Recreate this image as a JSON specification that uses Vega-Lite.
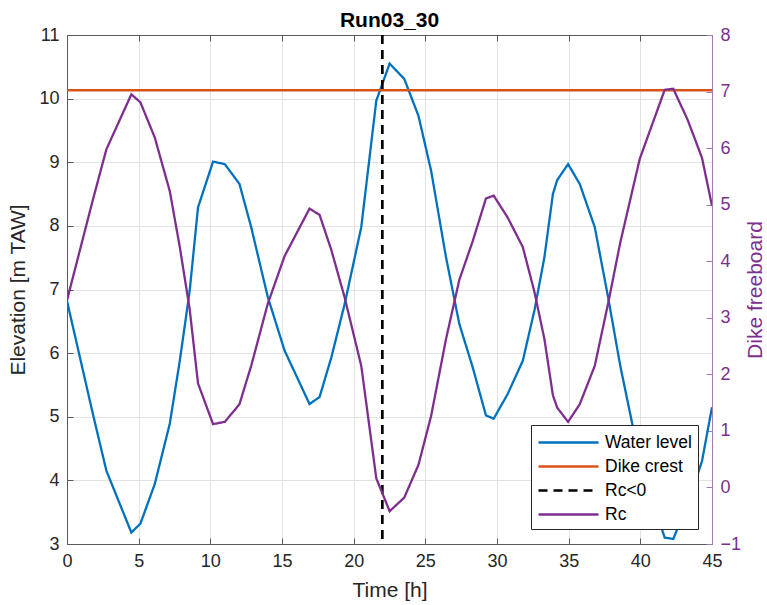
{
  "$schema": "https://vega.github.io/schema/vega-lite/v6.json",
  "width": 645,
  "height": 509,
  "autosize": {"type": "none"},
  "padding": {"left": 67, "top": 35, "right": 55, "bottom": 61},
  "background": "white",
  "title": {"text": "Run03_30", "font": "Liberation Sans", "fontSize": 21, "fontWeight": "bold", "color": "#000000", "offset": -5},
  "config": {
    "font": "Liberation Sans",
    "view": {"stroke": null},
    "axis": {
      "labelFont": "Liberation Sans", "labelFontSize": 18, "labelColor": "#262626",
      "titleFont": "Liberation Sans", "titleFontSize": 21, "titleFontWeight": "normal", "titleColor": "#262626",
      "domainColor": "#5a5a5a", "tickColor": "#5a5a5a", "tickSize": -6, "labelPadding": 14,
      "gridColor": "#e3e3e3", "domainWidth": 1, "labelFlush": false
    }
  },
  "datasets": {
    "wl": [
      {"t": 0, "wl": 6.82, "rc": 3.31},
      {"t": 1.81, "wl": 5.04, "rc": 5.09},
      {"t": 2.75, "wl": 4.15, "rc": 5.98},
      {"t": 4.49, "wl": 3.18, "rc": 6.95},
      {"t": 5.12, "wl": 3.32, "rc": 6.81},
      {"t": 6.12, "wl": 3.94, "rc": 6.19},
      {"t": 7.17, "wl": 4.89, "rc": 5.24},
      {"t": 7.87, "wl": 5.88, "rc": 4.25},
      {"t": 8.56, "wl": 6.98, "rc": 3.15},
      {"t": 9.14, "wl": 8.29, "rc": 1.84},
      {"t": 10.19, "wl": 9.01, "rc": 1.12},
      {"t": 11.01, "wl": 8.97, "rc": 1.16},
      {"t": 12.03, "wl": 8.66, "rc": 1.47},
      {"t": 12.85, "wl": 7.98, "rc": 2.15},
      {"t": 14.01, "wl": 6.88, "rc": 3.25},
      {"t": 15.18, "wl": 6.04, "rc": 4.09},
      {"t": 16.92, "wl": 5.2, "rc": 4.93},
      {"t": 17.62, "wl": 5.31, "rc": 4.82},
      {"t": 18.44, "wl": 5.93, "rc": 4.2},
      {"t": 19.37, "wl": 6.77, "rc": 3.36},
      {"t": 20.53, "wl": 7.98, "rc": 2.15},
      {"t": 21.58, "wl": 9.97, "rc": 0.16},
      {"t": 22.51, "wl": 10.55, "rc": -0.42},
      {"t": 23.53, "wl": 10.31, "rc": -0.18},
      {"t": 24.52, "wl": 9.73, "rc": 0.4},
      {"t": 25.4, "wl": 8.87, "rc": 1.26},
      {"t": 26.44, "wl": 7.51, "rc": 2.62},
      {"t": 27.37, "wl": 6.46, "rc": 3.67},
      {"t": 28.3, "wl": 5.78, "rc": 4.35},
      {"t": 29.23, "wl": 5.02, "rc": 5.11},
      {"t": 29.77, "wl": 4.97, "rc": 5.16},
      {"t": 30.75, "wl": 5.36, "rc": 4.77},
      {"t": 31.8, "wl": 5.88, "rc": 4.25},
      {"t": 32.61, "wl": 6.67, "rc": 3.46},
      {"t": 33.31, "wl": 7.51, "rc": 2.62},
      {"t": 33.9, "wl": 8.5, "rc": 1.63},
      {"t": 34.2, "wl": 8.72, "rc": 1.41},
      {"t": 34.96, "wl": 8.97, "rc": 1.16},
      {"t": 35.77, "wl": 8.66, "rc": 1.47},
      {"t": 36.82, "wl": 7.98, "rc": 2.15},
      {"t": 37.75, "wl": 6.88, "rc": 3.25},
      {"t": 38.6, "wl": 5.8, "rc": 4.33},
      {"t": 39.96, "wl": 4.32, "rc": 5.81},
      {"t": 41.7, "wl": 3.1, "rc": 7.03},
      {"t": 42.3, "wl": 3.08, "rc": 7.05},
      {"t": 43.3, "wl": 3.63, "rc": 6.5},
      {"t": 44.3, "wl": 4.3, "rc": 5.83},
      {"t": 45.0, "wl": 5.15, "rc": 4.98}
    ],
    "crest": [{"crest": 10.13}],
    "event": [{"time": 22.0}]
  },
  "layer": [
    {
      "layer": [
        {
          "data": {"name": "wl"},
          "mark": {"type": "line", "strokeWidth": 2.3, "clip": true},
          "encoding": {
            "x": {"field": "t", "type": "quantitative", "scale": {"domain": [0, 45], "nice": false},
                  "axis": {"title": "Time [h]", "values": [0, 5, 10, 15, 20, 25, 30, 35, 40, 45], "grid": true, "titlePadding": 9}},
            "y": {"field": "wl", "type": "quantitative", "scale": {"domain": [3, 11], "nice": false, "zero": false},
                  "axis": {"title": "Elevation [m TAW]", "orient": "left", "values": [3, 4, 5, 6, 7, 8, 9, 10, 11], "format": "d", "grid": true, "labelPadding": 14, "titlePadding": 10}},
            "color": {"datum": "Water level", "type": "nominal",
                      "scale": {"domain": ["Water level", "Dike crest", "Rc<0", "Rc"], "range": ["#0072BD", "#D95319", "#000000", "#7E2F8E"]},
                      "legend": {"orient": "none", "legendX": 464, "legendY": 390, "title": null, "direction": "vertical",
                                 "fillColor": "white", "strokeColor": "#262626", "padding": 6,
                                 "labelFont": "Liberation Sans", "labelFontSize": 17.5, "labelColor": "#000000", "labelOffset": 45,
                                 "symbolType": "M-1,0H5", "symbolSize": 400, "symbolStrokeWidth": 2.5, "rowPadding": 4, "labelLimit": 200}},
            "strokeDash": {"datum": "Water level", "type": "nominal",
                           "scale": {"domain": ["Water level", "Dike crest", "Rc<0", "Rc"], "range": [[1, 0], [1, 0], [9, 6], [1, 0]]}}
          }
        },
        {
          "data": {"name": "crest"},
          "mark": {"type": "rule", "strokeWidth": 2.5},
          "encoding": {
            "y": {"field": "crest", "type": "quantitative"},
            "color": {"datum": "Dike crest", "type": "nominal"},
            "strokeDash": {"datum": "Dike crest", "type": "nominal"}
          }
        },
        {
          "data": {"name": "event"},
          "mark": {"type": "rule", "strokeWidth": 2.7},
          "encoding": {
            "x": {"field": "time", "type": "quantitative"},
            "color": {"datum": "Rc<0", "type": "nominal"},
            "strokeDash": {"datum": "Rc<0", "type": "nominal"}
          }
        }
      ]
    },
    {
      "data": {"name": "wl"},
      "mark": {"type": "line", "strokeWidth": 2.3, "clip": true},
      "encoding": {
        "x": {"field": "t", "type": "quantitative", "scale": {"domain": [0, 45], "nice": false},
              "axis": {"orient": "top", "title": null, "labels": false, "grid": false, "values": [0, 5, 10, 15, 20, 25, 30, 35, 40, 45]}},
        "y": {"field": "rc", "type": "quantitative", "scale": {"domain": [-1, 8], "nice": false, "zero": false},
              "axis": {"title": "Dike freeboard", "orient": "right", "values": [-1, 0, 1, 2, 3, 4, 5, 6, 7, 8], "grid": false,
                       "labelColor": "#7E2F8E", "titleColor": "#7E2F8E", "domainColor": "#A877B8", "tickColor": "#A877B8",
                       "titleAngle": -90, "titleBaseline": "top", "titlePadding": 4}},
        "color": {"datum": "Rc", "type": "nominal"},
        "strokeDash": {"datum": "Rc", "type": "nominal"}
      }
    }
  ],
  "resolve": {"scale": {"x": "independent", "y": "independent"}}
}
